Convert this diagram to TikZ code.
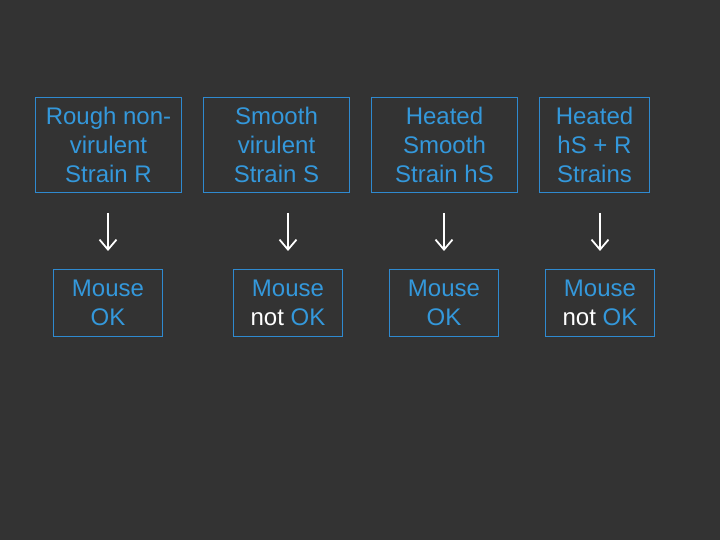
\documentclass[tikz,border=0pt]{standalone}
\usepackage{fontspec}
\setmainfont{Liberation Sans}
\usetikzlibrary{arrows.meta}
\definecolor{slidebg}{HTML}{333333}
\definecolor{boxblue}{HTML}{3498DB}
\definecolor{lineblue}{HTML}{2F8AD0}
\tikzset{
  strain/.style={draw=lineblue, line width=1bp, text=boxblue, align=center,
    inner sep=0pt, minimum width=146bp, minimum height=95bp,
    font=\fontsize{24bp}{28.8bp}\selectfont},
  mouse/.style={strain, minimum width=109bp, minimum height=67bp},
  arr/.style={draw=white, line width=1.5bp,
    -{Straight Barb[length=10bp,width=17bp,line width=1.8bp]},
    shorten <=20bp, shorten >=18bp}
}
\begin{document}
\begin{tikzpicture}[x=1bp, y=-1bp]
    \fill[slidebg] (0,0) rectangle (720,540);
    \useasboundingbox (0,0) rectangle (720,540);

    % strains
    \node[strain] (s1) at (108.5,145) {Rough non-\\virulent\\Strain R};
    \node[strain] (s2) at (276.5,145) {Smooth\\virulent\\Strain S};
    \node[strain] (s3) at (444.5,145) {Heated\\Smooth\\Strain hS};
    \node[strain, minimum width=110bp] (s4) at (594.5,145) {Heated\\hS + R\\Strains};

    % mice
    \node[mouse] (m1) at (108,303) {Mouse\\OK};
    \node[mouse] (m2) at (288,303) {Mouse\\\textcolor{white}{not} OK};
    \node[mouse] (m3) at (444,303) {Mouse\\OK};
    \node[mouse] (m4) at (600,303) {Mouse\\\textcolor{white}{not} OK};

    % down arrows
    \foreach \i in {1,2,3,4} {
        \draw[arr] (m\i.north |- s\i.south) -- (m\i.north);
      }
  \end{tikzpicture}
\end{document}
